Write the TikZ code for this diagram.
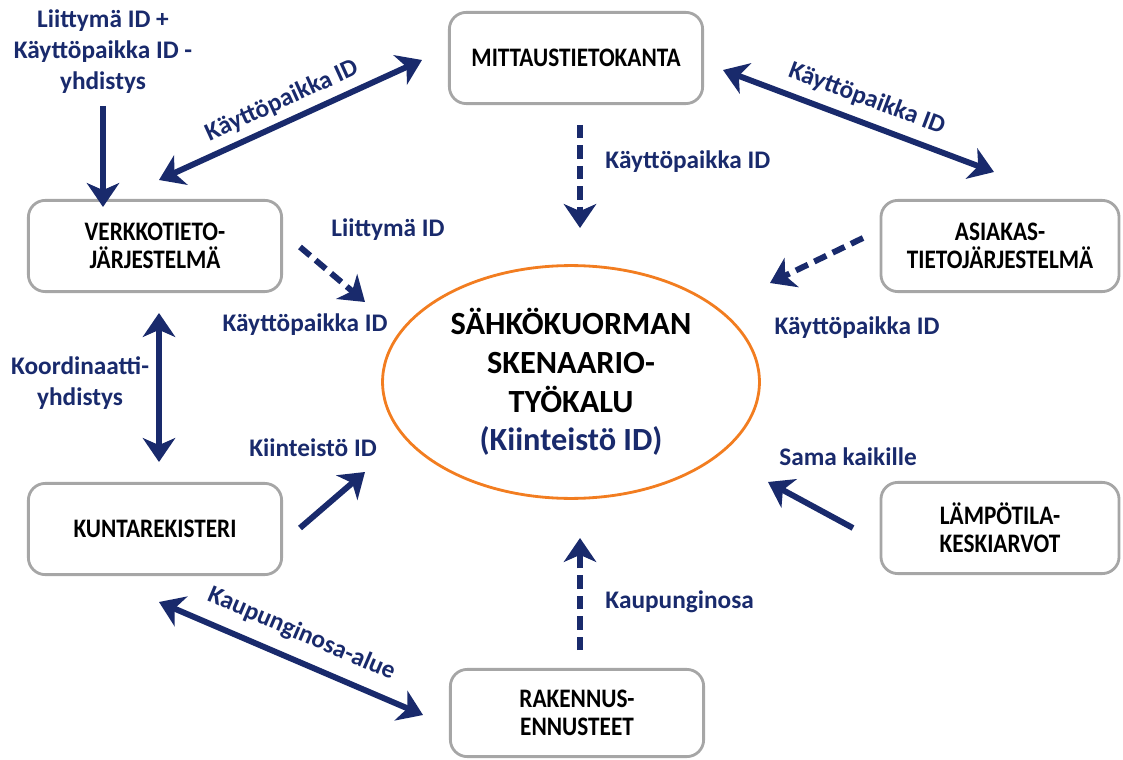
\documentclass[tikz,border=0pt]{standalone}
\usepackage{fontspec}
\setmainfont{Carlito}
\newfontfamily\boxfont{Carlito}[FakeStretch=0.87]
\usepackage{tikz}
\usetikzlibrary{arrows.meta}
\usetikzlibrary{shapes.geometric}
\definecolor{navy}{RGB}{25,42,108}
\definecolor{frame}{RGB}{166,166,166}
\definecolor{toolorange}{RGB}{242,125,32}
\tikzset{source/.style={draw=frame, line width=2pt, rounded corners=12pt, fill=white, align=center, minimum width=6.33cm, minimum height=2.28cm, font=\boxfont\bfseries\fontsize{19}{20}\selectfont}}
\tikzset{tool/.style={ellipse, draw=toolorange, line width=2pt, inner sep=0, minimum width=9.42cm, minimum height=5.82cm, align=center, font=\bfseries\fontsize{23}{27.5}\selectfont}}
\tikzset{idlabel/.style={text=navy, inner sep=0, align=center, font=\bfseries\fontsize{18}{22}\selectfont}}
\tikzset{every edge/.style={draw=navy, line width=4.2pt}}
\tikzset{feed/.style={-{Stealth[length=17pt, width=23pt, inset=5pt]}}}
\tikzset{twoway/.style={{Stealth[length=17pt, width=23pt, inset=5pt]}-{Stealth[length=17pt, width=23pt, inset=5pt]}}}
\tikzset{loosefeed/.style={feed, dash pattern=on 9.5pt off 5pt}}

\begin{document}
\begin{tikzpicture}[x=0.025cm, y=-0.025cm]
  \useasboundingbox (0, 0) rectangle (1123, 760);

  \node[source] at (155, 246) (verkko) {VERKKOTIETO-\\JÄRJESTELMÄ};
  \node[source] at (576, 58) (mittaus) {MITTAUSTIETOKANTA};
  \node[source, minimum width=5.95cm] at (1000, 246) (asiakas) {ASIAKAS-\\TIETOJÄRJESTELMÄ};
  \node[source] at (155, 529) (kunta) {KUNTAREKISTERI};
  \node[source, minimum width=5.95cm] at (1000, 528) (lampo) {LÄMPÖTILA-\\KESKIARVOT};
  \node[source, minimum height=2.18cm] at (577, 713) (rakennus) {RAKENNUS-\\ENNUSTEET};
  \node[tool] at (571, 382) (skenaario) {SÄHKÖKUORMAN\\SKENAARIO-\\TYÖKALU\\\textcolor{navy}{(Kiinteistö ID)}};

  % joining of the ids into verkko
  \node[idlabel] at (103, 52) (yhdistys) {Liittymä ID +\\Käyttöpaikka ID -\\yhdistys};
  \coordinate (j1) at (103, 106);
  \coordinate (j2) at (103, 207);
  \draw (j1) edge[feed] (j2);

  % upper row
  \coordinate (m1) at (159, 180);
  \coordinate (m2) at (422, 60);
  \coordinate (a1) at (723, 70);
  \coordinate (a2) at (994, 172);
  \draw (m1) edge[twoway] node[idlabel, sloped, above=5pt] (mlabel) {Käyttöpaikka ID} (m2);
  \draw (a1) edge[twoway] node[idlabel, sloped, above=7pt] (alabel) {Käyttöpaikka ID} (a2);

  % into the tool, dashed
  \coordinate (d1) at (580, 125);
  \coordinate (d2) at (580, 228);
  \draw (d1) edge[loosefeed] node[idlabel, right=16pt, pos=0.36] (dlabel) {Käyttöpaikka ID} (d2);

  \coordinate (v1) at (300, 247);
  \coordinate (v2) at (365, 302);
  \draw (v1) edge[loosefeed] (v2);
  \node[idlabel] at (388, 230) (vlabel) {Liittymä ID};
  \node[idlabel] at (305, 325) (vlabelb) {Käyttöpaikka ID};

  \coordinate (s1) at (863, 238);
  \coordinate (s2) at (770, 283);
  \draw (s1) edge[loosefeed] (s2);
  \node[idlabel] at (857, 328) (slabel) {Käyttöpaikka ID};

  \coordinate (b1) at (580, 650);
  \coordinate (b2) at (580, 538);
  \draw (b1) edge[loosefeed] node[idlabel, right=16pt, pos=0.43] (blabel) {Kaupunginosa} (b2);

  % left column
  \coordinate (k1) at (159, 313);
  \coordinate (k2) at (159, 462);
  \draw (k1) edge[twoway] node[idlabel, left=5pt, pos=0.47] (klabel) {Koordinaatti-\\yhdistys} (k2);

  \coordinate (r1) at (300, 528);
  \coordinate (r2) at (365, 472);
  \draw (r1) edge[feed] (r2);
  \node[idlabel] at (313, 448) (rlabel) {Kiinteistö ID};

  \coordinate (l1) at (853, 528);
  \coordinate (l2) at (768, 482);
  \draw (l1) edge[feed] (l2);
  \node[idlabel] at (848, 457) (llabel) {Sama kaikille};

  % lower row
  \coordinate (c1) at (159, 602);
  \coordinate (c2) at (423, 715);
  \draw (c1) edge[twoway] node[idlabel, sloped, above=9pt] (clabel) {Kaupunginosa-alue} (c2);
\end{tikzpicture}
\end{document}
